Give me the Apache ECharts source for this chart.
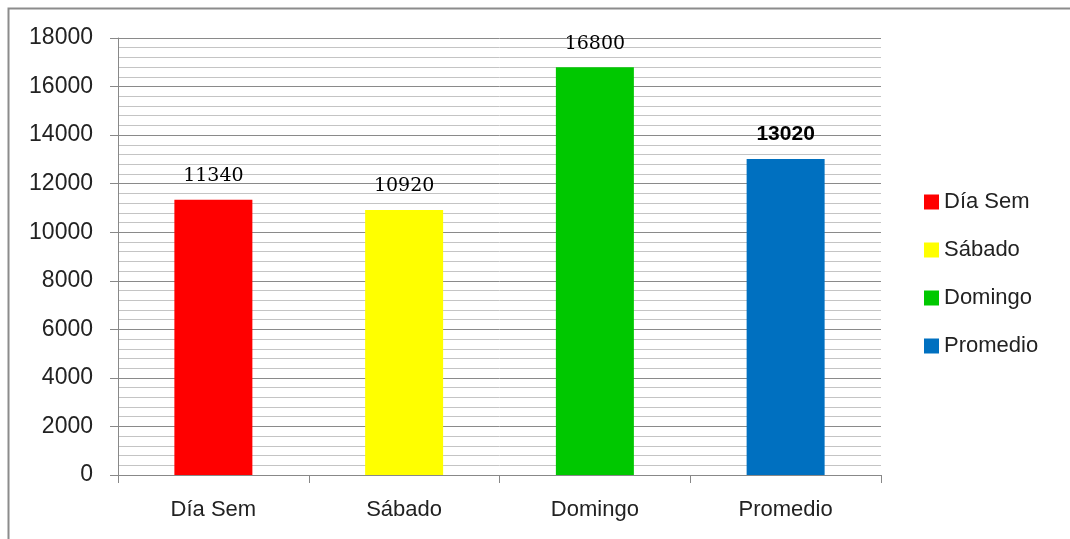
<!DOCTYPE html>
<html>
<head>
<meta charset="utf-8">
<script src="https://cdn.jsdelivr.net/npm/echarts@6/dist/echarts.min.js"></script>
<style>
  html, body { margin: 0; padding: 0; background: #fff; }
  #main { width: 1070px; height: 539px; }
</style>
</head>
<body>
<div id="main"></div>
<script>
var categories = ['Día Sem', 'Sábado', 'Domingo', 'Promedio'];
var values = [11340, 10920, 16800, 13020];
var colors = ['#ff0000', '#ffff00', '#00c800', '#0070c0'];

var chart = echarts.init(document.getElementById('main'));

// one series per category so the legend lists each one; stacked so each bar stays centred
var series = categories.map(function (name, i) {
  var data = categories.map(function (c, j) { return j === i ? values[i] : null; });
  var last = i === categories.length - 1;
  return {
    name: name,
    type: 'bar',
    stack: 'all',
    barWidth: 78,
    data: data,
    itemStyle: { color: colors[i] },
    label: {
      show: true,
      position: 'top',
      distance: 14,
      color: '#000',
      fontFamily: last ? 'Liberation Sans' : 'DejaVu Serif',
      fontWeight: last ? 'bold' : 'normal',
      fontSize: last ? 21 : 19
    }
  };
});

var option = {
  animation: false,
  backgroundColor: '#fff',
  graphic: [{
    type: 'rect',
    shape: { x: 8.5, y: 8.5, width: 1080, height: 560 },
    style: { fill: 'none', stroke: '#8c8c8c', lineWidth: 2 }
  }],
  legend: {
    orient: 'vertical',
    left: 919,
    top: 186,
    itemWidth: 15,
    itemHeight: 15,
    itemGap: 26,
    icon: 'rect',
    textStyle: { fontFamily: 'Liberation Sans', fontSize: 22, color: '#222' },
    data: categories
  },
  grid: { left: 118, right: 189, top: 38, bottom: 64 },
  xAxis: {
    type: 'category',
    data: categories,
    axisLine: { lineStyle: { color: '#888' } },
    axisTick: { show: true, length: 8, lineStyle: { color: '#888' } },
    axisLabel: { margin: 24, fontFamily: 'Liberation Sans', fontSize: 22, color: '#222' }
  },
  yAxis: {
    type: 'value',
    min: 0,
    max: 18000,
    interval: 2000,
    axisLine: { show: true, lineStyle: { color: '#888' } },
    axisTick: { show: true, length: 8, lineStyle: { color: '#888' } },
    axisLabel: {
      margin: 25, fontFamily: 'Liberation Sans', fontSize: 23, color: '#222',
      formatter: function (v) { return String(v); }
    },
    splitLine: { lineStyle: { color: '#8a8a8a' } },
    minorTick: { show: false, splitNumber: 5 },
    minorSplitLine: { show: true, lineStyle: { color: '#c4c4c4' } }
  },
  series: series
};

chart.setOption(option);
</script>
</body>
</html>
